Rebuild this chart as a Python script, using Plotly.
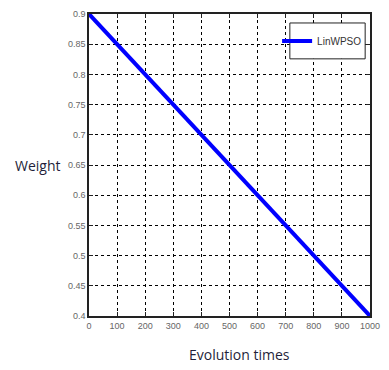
import plotly.graph_objects as go

# Inertia weight schedule of LinWPSO over the evolution
iterations = [0, 100, 200, 300, 400, 500, 600, 700, 800, 900, 1000]
weight = [0.9, 0.85, 0.8, 0.75, 0.7, 0.65, 0.6, 0.55, 0.5, 0.45, 0.4]

x_ticks = [0, 100, 200, 300, 400, 500, 600, 700, 800, 900, 1000]
y_ticks = [0.4, 0.45, 0.5, 0.55, 0.6, 0.65, 0.7, 0.75, 0.8, 0.85, 0.9]

W, H = 389, 370
L, R, T, B = 89, 9, 13, 54
PW, PH = W - L - R, H - T - B


def px_x(px):
    return (px - L) / PW


def px_y(py):
    return (H - B - py) / PH


fig = go.Figure()
fig.add_trace(go.Scatter(
    x=iterations, y=weight, mode="lines", name="LinWPSO",
    line=dict(color="#0000ff", width=4),
))

axis_common = dict(
    showline=True, linecolor="#222222", linewidth=1.5, mirror="ticks",
    ticks="inside", ticklen=4, tickcolor="#222222",
    showgrid=True, gridcolor="#000000", gridwidth=1, griddash="3px,3px",
    zeroline=False,
    tickfont=dict(family="Liberation Sans Narrow, Arial Narrow, Liberation Sans, sans-serif",
                  size=9, color="#666666"),
)

fig.update_layout(
    width=W, height=H,
    margin=dict(l=L, r=R, t=T, b=B),
    plot_bgcolor="white", paper_bgcolor="white",
    xaxis=dict(range=[0, 1000], tickvals=x_ticks, **axis_common),
    yaxis=dict(range=[0.4, 0.9], tickvals=y_ticks,
               ticktext=[f"{v:g}" for v in y_ticks], **axis_common),
    showlegend=True,
    legend=dict(
        x=px_x(377), y=px_y(40), xanchor="right", yanchor="middle",
        bgcolor="rgba(0,0,0,0)", borderwidth=0, itemwidth=30,
        font=dict(family="Liberation Sans Narrow, Liberation Sans, sans-serif",
                  size=10, color="#333333"),
    ),
    shapes=[
        # legend frame
        dict(type="rect", xref="paper", yref="paper",
             x0=px_x(297), x1=px_x(375), y0=px_y(58), y1=px_y(22),
             line=dict(color="#222222", width=1), fillcolor="white", layer="above"),
    ],
    annotations=[
        dict(text="Weight", xref="paper", yref="paper",
             x=px_x(10), y=px_y(165), xanchor="left", yanchor="middle", showarrow=False,
             font=dict(family="Open Sans, Noto Sans, sans-serif", size=14, color="#1f1f3a")),
        dict(text="Evolution times", xref="paper", yref="paper",
             x=px_x(245), y=px_y(355), xanchor="center", yanchor="middle", showarrow=False,
             font=dict(family="Open Sans, Noto Sans, sans-serif", size=14, color="#1f1f3a")),
    ],
)

fig.write_html("out.html")
